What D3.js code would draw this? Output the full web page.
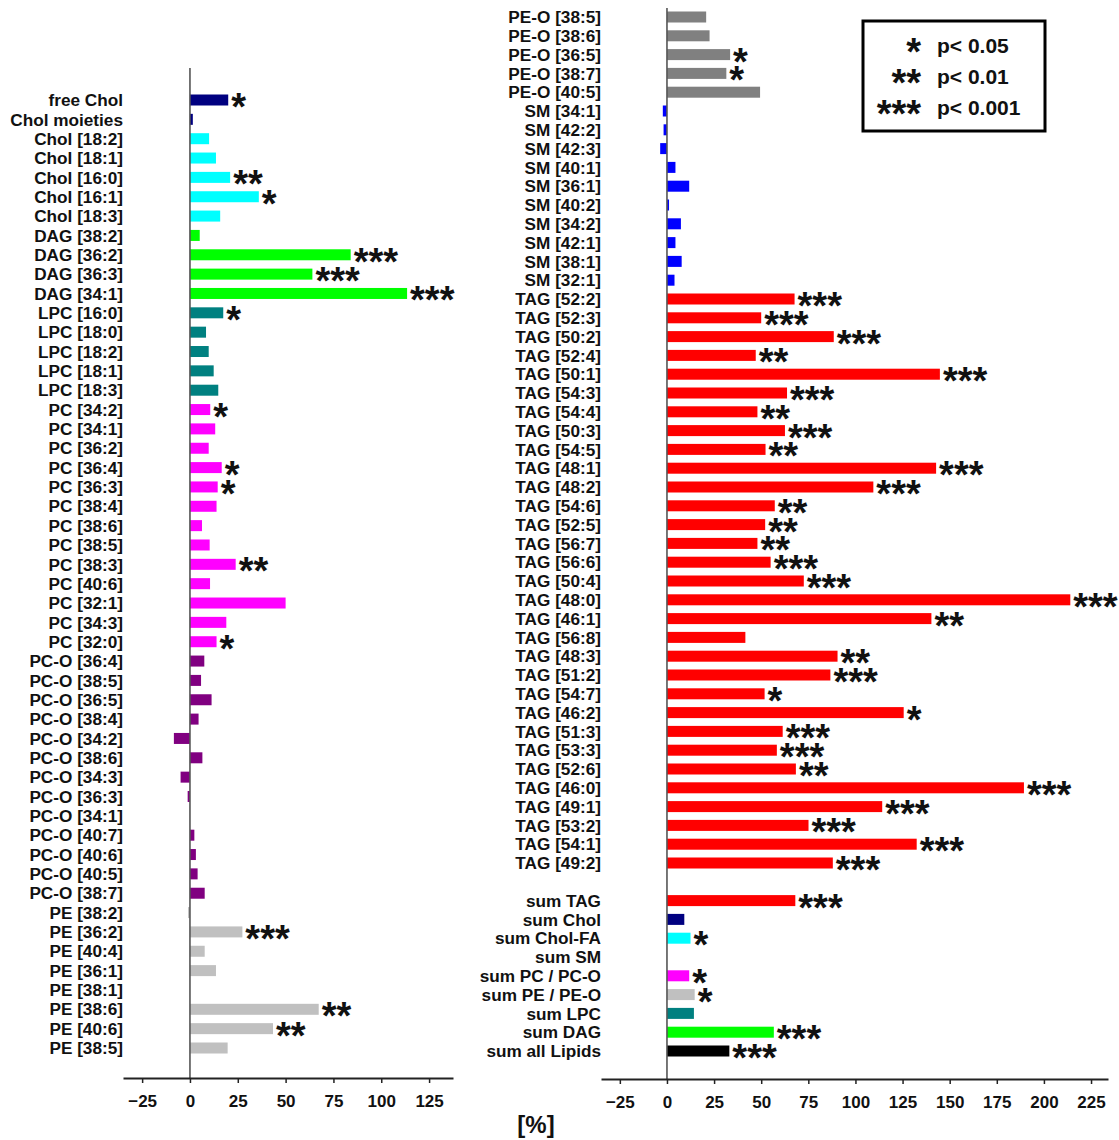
<!DOCTYPE html>
<html>
<head>
<meta charset="utf-8">
<script src="https://cdn.jsdelivr.net/npm/d3@7/dist/d3.min.js"></script>
<style>
  html, body { margin: 0; padding: 0; background: #fff; }
  svg { display: block; }
  text { font-family: "Liberation Sans", Arial, sans-serif; font-weight: bold; fill: #111; }
</style>
</head>
<body>
<svg id="chart" width="1119" height="1140"></svg>
<script>
// ---- left panel: cholesterol, DAG, LPC, PC, PC-O, PE species ----
const leftLabels = [
  "free Chol", "Chol moieties", "Chol [18:2]", "Chol [18:1]", "Chol [16:0]", "Chol [16:1]", "Chol [18:3]",
  "DAG [38:2]", "DAG [36:2]", "DAG [36:3]", "DAG [34:1]",
  "LPC [16:0]", "LPC [18:0]", "LPC [18:2]", "LPC [18:1]", "LPC [18:3]",
  "PC [34:2]", "PC [34:1]", "PC [36:2]", "PC [36:4]", "PC [36:3]", "PC [38:4]", "PC [38:6]",
  "PC [38:5]", "PC [38:3]", "PC [40:6]", "PC [32:1]", "PC [34:3]", "PC [32:0]",
  "PC-O [36:4]", "PC-O [38:5]", "PC-O [36:5]", "PC-O [38:4]", "PC-O [34:2]", "PC-O [38:6]",
  "PC-O [34:3]", "PC-O [36:3]", "PC-O [34:1]", "PC-O [40:7]", "PC-O [40:6]", "PC-O [40:5]", "PC-O [38:7]",
  "PE [38:2]", "PE [36:2]", "PE [40:4]", "PE [36:1]", "PE [38:1]", "PE [38:6]", "PE [40:6]", "PE [38:5]"
];
const leftValues = [
  20, 1.5, 10, 13.6, 21, 36, 15.8,
  5.1, 84, 64, 113.5,
  17.4, 8.4, 9.8, 12.4, 14.8,
  10.6, 13.2, 9.8, 16.6, 14.5, 13.9, 6.3,
  10.3, 23.9, 10.5, 50, 19, 13.9,
  7.5, 5.8, 11.3, 4.5, -8.4, 6.5,
  -4.9, -1.2, 0, 2.3, 3.1, 4, 7.7,
  -1, 27.4, 7.7, 13.6, 0, 67.3, 43.4, 19.7
];
const leftGroups = [
  "Chol", "Chol", "CholFA", "CholFA", "CholFA", "CholFA", "CholFA",
  "DAG", "DAG", "DAG", "DAG",
  "LPC", "LPC", "LPC", "LPC", "LPC",
  "PC", "PC", "PC", "PC", "PC", "PC", "PC", "PC", "PC", "PC", "PC", "PC", "PC",
  "PCO", "PCO", "PCO", "PCO", "PCO", "PCO", "PCO", "PCO", "PCO", "PCO", "PCO", "PCO", "PCO",
  "PE", "PE", "PE", "PE", "PE", "PE", "PE", "PE"
];
const leftSig = [
  "*", "", "", "", "**", "*", "",
  "", "***", "***", "***",
  "*", "", "", "", "",
  "*", "", "", "*", "*", "", "", "", "**", "", "", "", "*",
  "", "", "", "", "", "", "", "", "", "", "", "", "",
  "", "***", "", "", "", "**", "**", ""
];

// ---- right panel: PE-O, SM, TAG species and class sums ----
const GAP = " ";
const rightLabels = [
  "PE-O [38:5]", "PE-O [38:6]", "PE-O [36:5]", "PE-O [38:7]", "PE-O [40:5]",
  "SM [34:1]", "SM [42:2]", "SM [42:3]", "SM [40:1]", "SM [36:1]", "SM [40:2]", "SM [34:2]",
  "SM [42:1]", "SM [38:1]", "SM [32:1]",
  "TAG [52:2]", "TAG [52:3]", "TAG [50:2]", "TAG [52:4]", "TAG [50:1]", "TAG [54:3]", "TAG [54:4]",
  "TAG [50:3]", "TAG [54:5]", "TAG [48:1]", "TAG [48:2]", "TAG [54:6]", "TAG [52:5]", "TAG [56:7]",
  "TAG [56:6]", "TAG [50:4]", "TAG [48:0]", "TAG [46:1]", "TAG [56:8]", "TAG [48:3]", "TAG [51:2]",
  "TAG [54:7]", "TAG [46:2]", "TAG [51:3]", "TAG [53:3]", "TAG [52:6]", "TAG [46:0]", "TAG [49:1]",
  "TAG [53:2]", "TAG [54:1]", "TAG [49:2]",
  GAP,
  "sum TAG", "sum Chol", "sum Chol-FA", "sum SM", "sum PC / PC-O", "sum PE / PE-O",
  "sum LPC", "sum DAG", "sum all Lipids"
];
const rightValues = [
  20.8, 22.6, 33.5, 31.5, 49.4,
  -2.2, -1.8, -3.6, 4.5, 11.8, 1.1, 7.4, 4.5, 7.8, 4,
  67.7, 50, 88.5, 47.1, 144.8, 63.7, 48, 62.6, 52.3, 142.8, 109.5, 57.2, 52.1, 48,
  55, 72.6, 214, 140.3, 41.6, 90.5, 86.7, 51.8, 125.6, 61.4, 58.3, 68.4, 189.4, 114.2,
  75.1, 132.5, 88,
  null,
  68.1, 9.2, 12.5, 0, 11.8, 14.7, 14.3, 56.7, 33.1
];
const rightGroups = [
  "PEO", "PEO", "PEO", "PEO", "PEO",
  "SM", "SM", "SM", "SM", "SM", "SM", "SM", "SM", "SM", "SM",
  "TAG", "TAG", "TAG", "TAG", "TAG", "TAG", "TAG", "TAG", "TAG", "TAG", "TAG", "TAG", "TAG", "TAG",
  "TAG", "TAG", "TAG", "TAG", "TAG", "TAG", "TAG", "TAG", "TAG", "TAG", "TAG", "TAG", "TAG", "TAG",
  "TAG", "TAG", "TAG",
  null,
  "TAG", "Chol", "CholFA", "SM", "PC", "PE", "LPC", "DAG", "All"
];
const rightSig = [
  "", "", "*", "*", "",
  "", "", "", "", "", "", "", "", "", "",
  "***", "***", "***", "**", "***", "***", "**", "***", "**", "***", "***", "**", "**", "**",
  "***", "***", "***", "**", "", "**", "***", "*", "*", "***", "***", "**", "***", "***",
  "***", "***", "***",
  "",
  "***", "", "*", "", "*", "*", "", "***", "***"
];

const leftTicks = [-25, 0, 25, 50, 75, 100, 125];
const rightTicks = [-25, 0, 25, 50, 75, 100, 125, 150, 175, 200, 225];
const legendSymbols = ["*", "**", "***"];
const legendTexts = ["p< 0.05", "p< 0.01", "p< 0.001"];

const groupColors = {
  Chol: "#000080", CholFA: "#00ffff", DAG: "#00ff00", LPC: "#008080",
  PC: "#ff00ff", PCO: "#800080", PE: "#c0c0c0", PEO: "#808080",
  SM: "#0000ff", TAG: "#ff0000", All: "#000000"
};

const svg = d3.select("#chart");

function panel(cfg) {
  const rows = cfg.labels.map((label, i) => ({
    label, value: cfg.values[i], group: cfg.groups[i], sig: cfg.sig[i]
  }));
  const x = d3.scaleLinear().domain(cfg.xDomain).range(cfg.xRange);
  const y = d3.scalePoint().domain(cfg.labels).range(cfg.yRange);
  const barH = 11;
  const g = svg.append("g");

  // bars
  g.selectAll("rect.bar")
    .data(rows.filter(d => d.value !== null))
    .join("rect")
    .attr("class", "bar")
    .attr("x", d => x(Math.min(0, d.value)))
    .attr("y", d => y(d.label) - barH / 2)
    .attr("width", d => Math.abs(x(d.value) - x(0)))
    .attr("height", barH)
    .attr("fill", d => groupColors[d.group]);

  // category labels
  g.selectAll("text.cat")
    .data(rows.filter(d => d.label !== GAP))
    .join("text")
    .attr("class", "cat")
    .attr("x", cfg.xRange[0])
    .attr("y", d => y(d.label))
    .attr("dy", "0.36em")
    .attr("text-anchor", "end")
    .style("font-size", "17.2px")
    .text(d => d.label);

  // zero line
  g.append("line")
    .attr("x1", x(0)).attr("x2", x(0))
    .attr("y1", cfg.zeroTop).attr("y2", cfg.axisY)
    .attr("stroke", "#555").attr("stroke-width", 1.6);

  // significance marks
  g.selectAll("text.sig")
    .data(rows.filter(d => d.sig))
    .join("text")
    .attr("class", "sig")
    .attr("x", d => x(Math.max(0, d.value)) + 3)
    .attr("y", d => y(d.label) + 20)
    .style("font-size", "38px")
    .text(d => d.sig);

  // value axis
  const axis = d3.axisBottom(x).tickValues(cfg.ticks).tickSize(5).tickPadding(12).tickSizeOuter(0);
  const ax = g.append("g").attr("transform", `translate(0,${cfg.axisY})`).call(axis);
  ax.select(".domain").attr("stroke", "#222").attr("stroke-width", 1.8);
  ax.selectAll(".tick line").attr("stroke", "#222").attr("stroke-width", 1.5);
  ax.selectAll(".tick text")
    .style("font-family", '"Liberation Sans", Arial, sans-serif')
    .style("font-weight", "bold")
    .style("font-size", "17px")
    .attr("fill", "#111");
}

panel({
  labels: leftLabels, values: leftValues, groups: leftGroups, sig: leftSig,
  xDomain: [-35, 137.5], xRange: [123, 453], yRange: [100, 1048],
  zeroTop: 68, axisY: 1078, ticks: leftTicks
});

panel({
  labels: rightLabels, values: rightValues, groups: rightGroups, sig: rightSig,
  xDomain: [-35, 234], xRange: [601, 1108], yRange: [17, 1051],
  zeroTop: 8, axisY: 1079, ticks: rightTicks
});

// unit label
svg.append("text")
  .attr("x", 536).attr("y", 1133)
  .attr("text-anchor", "middle")
  .style("font-size", "24px")
  .text("[%]");

// significance legend
const legend = svg.append("g").attr("transform", "translate(863,21)");
legend.append("rect")
  .attr("width", 182).attr("height", 110)
  .attr("fill", "#fff").attr("stroke", "#000").attr("stroke-width", 3);
const legendY = d3.scalePoint().domain(legendTexts).range([24, 86]);
legend.selectAll("text.sym")
  .data(legendSymbols)
  .join("text")
  .attr("class", "sym")
  .attr("x", 58)
  .attr("y", (d, i) => legendY(legendTexts[i]) + 20)
  .attr("text-anchor", "end")
  .style("font-size", "38px")
  .text(d => d);
legend.selectAll("text.lab")
  .data(legendTexts)
  .join("text")
  .attr("class", "lab")
  .attr("x", 74)
  .attr("y", d => legendY(d))
  .attr("dy", "0.36em")
  .style("font-size", "21px")
  .text(d => d);
</script>
</body>
</html>
